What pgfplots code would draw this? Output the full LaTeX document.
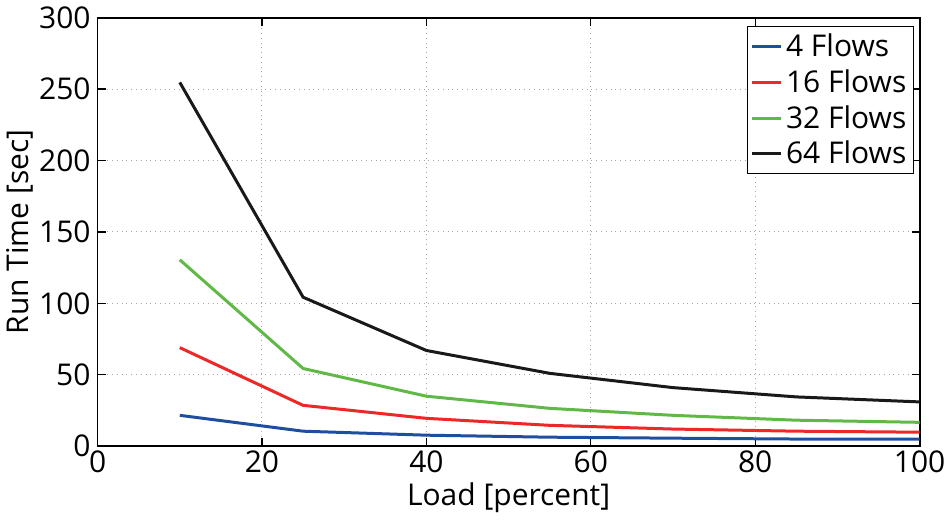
\documentclass[border=0pt]{standalone}
\usepackage{pgfplots}
\pgfplotsset{compat=1.18}
\usepackage{fontspec}
\setmainfont{Open Sans}
\definecolor{fblue}{RGB}{31,78,160}
\definecolor{fred}{RGB}{237,40,40}
\definecolor{fgreen}{RGB}{96,185,70}
\definecolor{fblack}{RGB}{25,25,25}
\begin{document}
\begin{tikzpicture}
\begin{axis}[
scale only axis,
width=411.5pt,
height=214.5pt,
xmin=0, xmax=100,
ymin=0, ymax=300,
xtick={0,20,40,60,80,100},
ytick={0,50,100,150,200,250,300},
tick align=inside,
major tick length=4pt,
tick style={black, line width=0.6pt},
axis line style={line width=0.9pt, black},
grid=major,
major grid style={dotted, gray!70, line width=0.5pt},
/pgf/number format/assume math mode=true,
ticklabel style={font=\fontsize{15}{17}\selectfont},
label style={font=\fontsize{15}{17}\selectfont},
xticklabel style={yshift=1pt},
xlabel={Load [percent]},
ylabel={Run Time [sec]},
xlabel style={yshift=2pt},
ylabel style={yshift=-4pt},
legend style={at={(rel axis cs:0.993,0.98)}, anchor=north east,
  font=\fontsize{15}{17}\selectfont, draw=black, line width=0.6pt,
  inner sep=1.5pt, row sep=1pt},
legend cell align=left,
legend image code/.code={\draw[#1, line width=1.5pt] (0cm,0cm) -- (0.5cm,0cm);},
]
\addplot[fblue, line width=1.5pt] coordinates {
(10,21.6) (25,10.5) (40,7.7) (55,6.3) (70,5.6) (85,5.0) (100,4.9)};
\addlegendentry{4 Flows}
\addplot[fred, line width=1.5pt] coordinates {
(10,69) (25,28.6) (40,19.5) (55,14.6) (70,12.0) (85,10.5) (100,9.8)};
\addlegendentry{16 Flows}
\addplot[fgreen, line width=1.5pt] coordinates {
(10,130.5) (25,54.4) (40,35) (55,26.5) (70,21.6) (85,18.2) (100,16.7)};
\addlegendentry{32 Flows}
\addplot[fblack, line width=1.5pt] coordinates {
(10,254.7) (25,104.3) (40,67) (55,51) (70,41) (85,34.5) (100,31)};
\addlegendentry{64 Flows}
\end{axis}
\end{tikzpicture}
\end{document}
